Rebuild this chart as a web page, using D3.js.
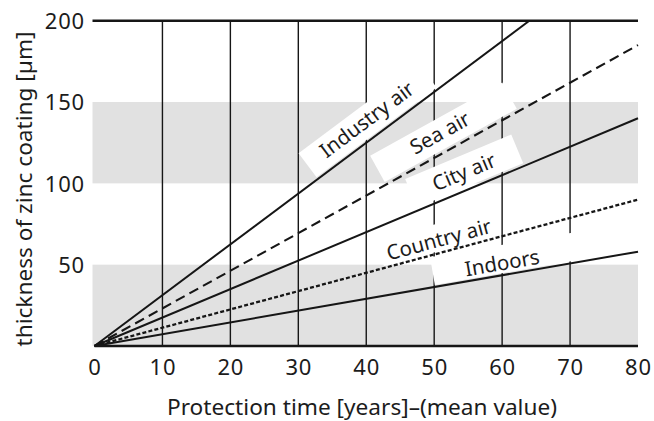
<!DOCTYPE html>
<html>
<head>
<meta charset="utf-8">
<script src="https://cdn.jsdelivr.net/npm/d3@7"></script>
<style>
  html, body { margin: 0; padding: 0; background: #fff; }
  svg { display: block; font-family: "Noto Sans", sans-serif; }
</style>
</head>
<body>
<svg id="chart" width="654" height="421"></svg>
<script>
// ---------------- data ----------------
const seriesNames = ["Industry air", "Sea air", "City air", "Country air", "Indoors"];
const startYears = [0, 0, 0, 0, 0];
const startThickness = [0, 0, 0, 0, 0];
const endYears = [64, 80, 80, 80, 80];
const endThickness = [200, 185, 140, 90, 58];
const xTicks = [0, 10, 20, 30, 40, 50, 60, 70, 80];
const yTicks = [50, 100, 150, 200];
const gridYears = [10, 20, 30, 40, 50, 60, 70];
const bandLow = [0, 100];
const bandHigh = [50, 150];
const xTitle = "Protection time [years]–(mean value)";
const yTitle = "thickness of zinc coating [µm]";

// ---------------- layout / style ----------------
const dashArrays = [null, "10,5.5", null, "4,2.2", null];
const strokeWidths = [2, 2.1, 2, 2.3, 2];
// label layout: year where the label sits on its line, perpendicular text offset, box extent
const labelYear = [41.7, 52.2, 55.4, 51.2, 60.3];
const labelTextOff = [18, 19, 17.5, 13, 12];
const labelBoxBottom = [2, 3, 3, 2, 2];
const labelBoxTop = [32, 33, 34, 29, 30];
const labelBoxLeft = [-75, -72, -57, -60, -70];
const labelBoxRight = [75, 79, 58, 60, 74];

const svg = d3.select("#chart");
const x = d3.scaleLinear().domain([0, 80]).range([94.5, 638]);
const y = d3.scaleLinear().domain([0, 200]).range([346, 20.7]);
const ink = "#161616";

// gray bands
svg.append("g").selectAll("rect").data(d3.range(bandLow.length)).join("rect")
  .attr("x", x(0) - 2)
  .attr("width", x(80) - x(0) + 2)
  .attr("y", i => y(bandHigh[i]))
  .attr("height", i => y(bandLow[i]) - y(bandHigh[i]))
  .attr("fill", "#e1e1e1");

// vertical grid lines
svg.append("g").selectAll("line").data(gridYears).join("line")
  .attr("x1", d => x(d)).attr("x2", d => x(d))
  .attr("y1", y(0)).attr("y2", y(200))
  .attr("stroke", ink).attr("stroke-width", 1.4);

// top line at 200
svg.append("line")
  .attr("x1", x(0) - 2).attr("x2", x(80))
  .attr("y1", y(200)).attr("y2", y(200))
  .attr("stroke", ink).attr("stroke-width", 2.5);

// label boxes (white)
const labelG = svg.append("g");
function lineAngle(i) {
  const dx = x(endYears[i]) - x(startYears[i]);
  const dy = y(endThickness[i]) - y(startThickness[i]);
  return Math.atan2(dy, dx) * 180 / Math.PI;
}
function valueAt(i, t) {
  return startThickness[i] + (endThickness[i] - startThickness[i]) * (t - startYears[i]) / (endYears[i] - startYears[i]);
}
const labels = labelG.selectAll("g").data(d3.range(seriesNames.length)).join("g")
  .attr("transform", i => `translate(${x(labelYear[i])},${y(valueAt(i, labelYear[i]))}) rotate(${lineAngle(i)})`);
labels.append("rect")
  .attr("x", i => labelBoxLeft[i])
  .attr("width", i => labelBoxRight[i] - labelBoxLeft[i])
  .attr("y", i => -labelBoxTop[i])
  .attr("height", i => labelBoxTop[i] - labelBoxBottom[i])
  .attr("fill", "#fff");

// series lines
const lineGen = d3.line().x(d => x(d[0])).y(d => y(d[1]));
svg.append("g").selectAll("path").data(d3.range(seriesNames.length)).join("path")
  .attr("d", i => lineGen([[startYears[i], startThickness[i]], [endYears[i], endThickness[i]]]))
  .attr("fill", "none")
  .attr("stroke", ink)
  .attr("stroke-width", i => strokeWidths[i])
  .attr("stroke-dasharray", i => dashArrays[i]);

// label texts
labels.append("text")
  .attr("x", 0)
  .attr("y", i => -(labelTextOff[i] - 7))
  .attr("text-anchor", "middle")
  .attr("font-size", 20.5)
  .attr("fill", "#1c1c1c")
  .text(i => seriesNames[i]);

// bottom axis
const xAxis = d3.axisBottom(x).tickValues(xTicks).tickSize(0).tickPadding(0).tickFormat(d3.format("d"));
const gx = svg.append("g").attr("transform", `translate(0,${y(0)})`).call(xAxis);
gx.select(".domain").attr("stroke", ink).attr("stroke-width", 2.5).attr("d", `M${x(0)},0H${x(80)}`);
gx.selectAll(".tick text").attr("font-size", 22).attr("fill", "#1c1c1c")
  .attr("font-family", "Noto Sans").attr("letter-spacing", 0.8).attr("dy", null).attr("y", 29);

// left axis (labels only)
const yAxis = d3.axisLeft(y).tickValues(yTicks).tickSize(0).tickPadding(0);
const gy = svg.append("g").attr("transform", `translate(85,0)`).call(yAxis);
gy.select(".domain").remove();
gy.selectAll(".tick text").attr("font-size", 22).attr("fill", "#1c1c1c")
  .attr("font-family", "Noto Sans").attr("letter-spacing", 0.8).attr("x", 0).attr("dy", "0.36em");

// axis titles
svg.append("text")
  .attr("x", 362).attr("y", 415)
  .attr("text-anchor", "middle")
  .attr("font-size", 21).attr("fill", "#1c1c1c")
  .attr("textLength", 390).attr("lengthAdjust", "spacingAndGlyphs")
  .text(xTitle);
svg.append("text")
  .attr("transform", "translate(32,189) rotate(-90)")
  .attr("text-anchor", "middle")
  .attr("font-size", 21).attr("fill", "#1c1c1c")
  .attr("textLength", 315).attr("lengthAdjust", "spacingAndGlyphs")
  .text(yTitle);
</script>
</body>
</html>
